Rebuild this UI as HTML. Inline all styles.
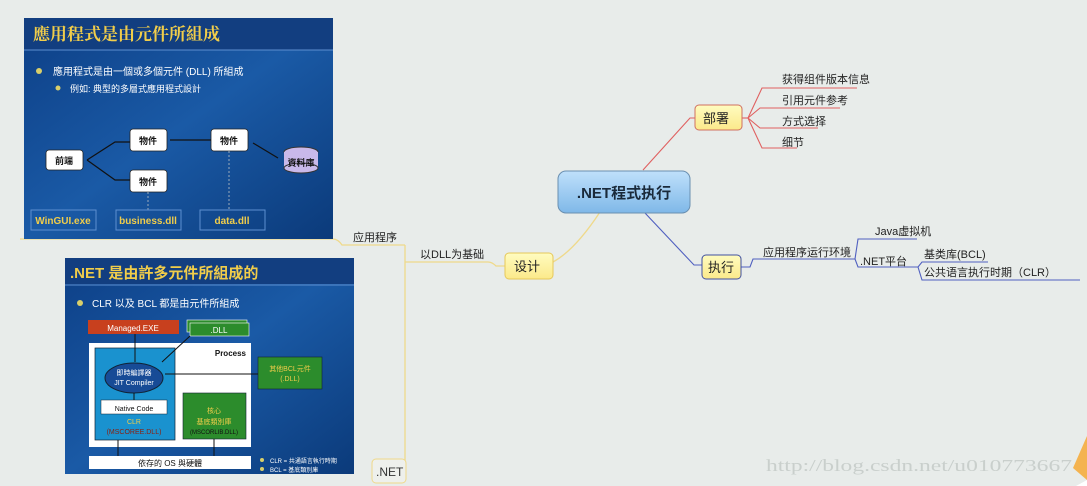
<!DOCTYPE html>
<html><head><meta charset="utf-8"><style>
body{margin:0;width:1087px;height:486px;overflow:hidden;background:#e8ecea;font-family:"Liberation Sans","Noto Sans CJK SC",sans-serif;}
svg{position:absolute;left:0;top:0}
</style></head><body>
<svg width="1087" height="486" viewBox="0 0 1087 486" xmlns="http://www.w3.org/2000/svg" font-family="Liberation Sans, Noto Sans CJK SC, sans-serif">
<defs>
<linearGradient id="sl" x1="0" y1="0" x2="1" y2="1">
<stop offset="0" stop-color="#0d3f86"/><stop offset="0.5" stop-color="#1a5aa6"/><stop offset="1" stop-color="#0b3a7a"/></linearGradient>
<linearGradient id="cn" x1="0" y1="0" x2="0" y2="1"><stop offset="0" stop-color="#bfe0fb"/><stop offset="1" stop-color="#7fb8e8"/></linearGradient>
<linearGradient id="yl" x1="0" y1="0" x2="0" y2="1"><stop offset="0" stop-color="#fffcc0"/><stop offset="1" stop-color="#fbe98a"/></linearGradient>
</defs>
<g fill="none" stroke="#efd98a" stroke-width="1.3">
<path d="M20 239 H333 Q338 239 342 245 H405"/>
<path d="M405 245 V472 Q405 480 400 480"/>
<path d="M405 262 H488 Q492 262 496 266 H505"/>
<path d="M553 262 Q575 250 600 212"/>
</g>
<rect x="372" y="459" width="34" height="24" rx="4" fill="#eef0ec" stroke="#efd98a"/>
<text x="376" y="476" font-size="12" fill="#333">.NET</text>
<text x="353" y="241" font-size="11" fill="#222">应用程序</text>
<text x="420" y="258" font-size="11" fill="#222">以DLL为基础</text>
<rect x="505" y="253" width="48" height="26" rx="4" fill="url(#yl)" stroke="#e6c85a"/>
<text x="514" y="271" font-size="13" fill="#222">设计</text>
<g fill="none" stroke="#e06060" stroke-width="1.1">
<path d="M643 170 L690 118 H695"/>
<path d="M742 118 H748"/>
<path d="M748 118 L762 88 H857"/>
<path d="M748 118 L760 108 H840"/>
<path d="M748 118 L760 128 H818"/>
<path d="M748 118 L762 148 H797"/>
</g>
<rect x="695" y="105" width="47" height="25" rx="4" fill="url(#yl)" stroke="#d07060"/>
<text x="703" y="123" font-size="13" fill="#222">部署</text>
<g font-size="11" fill="#222">
<text x="782" y="83">获得组件版本信息</text>
<text x="782" y="104">引用元件参考</text>
<text x="782" y="125">方式选择</text>
<text x="782" y="146">细节</text>
</g>
<g fill="none" stroke="#5060c0" stroke-width="1.1">
<path d="M645 213 L694 265 H702"/>
<path d="M741 267 H750 L753 259 H855"/>
<path d="M855 259 L858 239 H917"/>
<path d="M855 259 L858 267 H918"/>
<path d="M918 267 L922 262 H988"/>
<path d="M918 267 L922 280 H1080"/>
</g>
<rect x="702" y="255" width="39" height="24" rx="4" fill="url(#yl)" stroke="#4050a0"/>
<text x="708" y="272" font-size="13" fill="#222">执行</text>
<g font-size="11" fill="#222">
<text x="763" y="256">应用程序运行环境</text>
<text x="875" y="235">Java虚拟机</text>
<text x="860" y="265">.NET平台</text>
<text x="924" y="258">基类库(BCL)</text>
<text x="924" y="276">公共语言执行时期（CLR）</text>
</g>
<rect x="558" y="171" width="132" height="42" rx="8" fill="url(#cn)" stroke="#6a8fb0"/>
<text x="624" y="198" font-size="15" font-weight="bold" fill="#1a2a3a" text-anchor="middle">.NET程式执行</text>
<!-- slide 1 -->
<rect x="24" y="18" width="309" height="221" fill="url(#sl)"/>
<rect x="24" y="18" width="309" height="32" fill="#123e80"/>
<line x1="24" y1="50" x2="333" y2="50" stroke="#5d8fd0"/>
<text x="33" y="40" font-size="17" font-weight="bold" fill="#f1cd4a" font-family="Noto Serif CJK SC, serif">應用程式是由元件所組成</text>
<circle cx="39" cy="71" r="3" fill="#d9cf6a"/><circle cx="58" cy="88" r="2.5" fill="#d9cf6a"/>
<text x="53" y="75" font-size="10" fill="#fff">應用程式是由一個或多個元件 (DLL) 所組成</text>
<text x="70" y="92" font-size="9" fill="#fff">例如: 典型的多層式應用程式設計</text>
<g fill="#fff" stroke="#222" stroke-width="0.8">
<rect x="46" y="150" width="37" height="20" rx="3"/>
<rect x="130" y="129" width="37" height="22" rx="3"/>
<rect x="130" y="170" width="37" height="22" rx="3"/>
<rect x="211" y="129" width="37" height="22" rx="3"/>
</g>
<g stroke="#111" stroke-width="1.2" fill="none">
<path d="M87 160 L115 142 H130"/><path d="M87 160 L115 180 H130"/><path d="M170 140 H211"/><path d="M253 143 L278 158"/>
</g>
<g stroke="#9ab" stroke-dasharray="2 2"><line x1="148" y1="192" x2="148" y2="210"/><line x1="229" y1="151" x2="229" y2="210"/></g>
<ellipse cx="301" cy="152" rx="17" ry="5" fill="#c9b9ea" stroke="#333"/>
<rect x="284" y="152" width="34" height="16" fill="#c9b9ea"/>
<ellipse cx="301" cy="168" rx="17" ry="5" fill="#c9b9ea" stroke="#333"/>
<g font-size="9" font-weight="bold" fill="#111" text-anchor="middle">
<text x="64" y="164">前端</text><text x="148" y="144">物件</text><text x="148" y="185">物件</text><text x="229" y="144">物件</text><text x="301" y="166">資料庫</text>
</g>
<g fill="none" stroke="#5d8fd0"><rect x="31" y="210" width="65" height="20"/><rect x="116" y="210" width="65" height="20"/><rect x="200" y="210" width="65" height="20"/></g>
<g font-size="10" font-weight="bold" fill="#f1cd4a" text-anchor="middle"><text x="63" y="224">WinGUI.exe</text><text x="148" y="224">business.dll</text><text x="232" y="224">data.dll</text></g>
<!-- slide 2 -->
<rect x="65" y="258" width="289" height="216" fill="url(#sl)"/>
<rect x="65" y="258" width="289" height="26" fill="#123e80"/>
<line x1="65" y1="285" x2="354" y2="285" stroke="#5d8fd0"/>
<text x="70" y="278" font-size="15" font-weight="bold" fill="#f1cd4a">.NET 是由許多元件所組成的</text>
<circle cx="80" cy="303" r="3" fill="#d9cf6a"/>
<text x="92" y="307" font-size="10" fill="#fff">CLR 以及 BCL 都是由元件所組成</text>
<rect x="88" y="320" width="91" height="14" fill="#c8401e"/>
<text x="133" y="331" font-size="8" fill="#fff" text-anchor="middle">Managed.EXE</text>
<rect x="187" y="320" width="60" height="12" fill="#2c8c2c" stroke="#fff" stroke-width="0.6"/>
<rect x="190" y="323" width="59" height="13" fill="#2c8c2c" stroke="#fff" stroke-width="0.6"/>
<text x="219" y="333" font-size="8" fill="#fff" text-anchor="middle">.DLL</text>
<rect x="89" y="343" width="162" height="104" fill="#fff"/>
<rect x="95" y="348" width="80" height="92" fill="#1a92cf" stroke="#123" stroke-width="0.7"/>
<text x="246" y="356" font-size="8" font-weight="bold" fill="#111" text-anchor="end">Process</text>
<ellipse cx="134" cy="378" rx="29" ry="15" fill="#174b96" stroke="#123"/>
<text x="134" y="375" font-size="7" fill="#fff" text-anchor="middle">即時編譯器</text>
<text x="134" y="385" font-size="7" fill="#fff" text-anchor="middle">JIT Compiler</text>
<rect x="101" y="400" width="66" height="14" fill="#fff" stroke="#123" stroke-width="0.5"/>
<text x="134" y="411" font-size="7" fill="#111" text-anchor="middle">Native Code</text>
<text x="134" y="424" font-size="7" fill="#f1cd4a" text-anchor="middle">CLR</text>
<text x="134" y="434" font-size="7" fill="#8a2010" text-anchor="middle">(MSCOREE.DLL)</text>
<rect x="183" y="393" width="63" height="46" fill="#2c8c2c" stroke="#123" stroke-width="0.6"/>
<text x="214" y="413" font-size="7" fill="#f1cd4a" text-anchor="middle">核心</text>
<text x="214" y="424" font-size="7" fill="#f1cd4a" text-anchor="middle">基底類別庫</text>
<text x="214" y="434" font-size="6" fill="#111" text-anchor="middle">(MSCORLIB.DLL)</text>
<rect x="258" y="357" width="64" height="32" fill="#2c8c2c" stroke="#123" stroke-width="0.6"/>
<text x="290" y="371" font-size="7" fill="#f1cd4a" text-anchor="middle">其他BCL元件</text>
<text x="290" y="381" font-size="7" fill="#f1cd4a" text-anchor="middle">(.DLL)</text>
<g stroke="#111" stroke-width="1" fill="none">
<line x1="135" y1="334" x2="135" y2="362"/><line x1="190" y1="336" x2="162" y2="362"/>
<line x1="258" y1="374" x2="165" y2="374"/><line x1="134" y1="393" x2="134" y2="400"/>
<line x1="118" y1="440" x2="118" y2="456"/><line x1="214" y1="439" x2="214" y2="456"/>
</g>
<rect x="89" y="456" width="162" height="13" fill="#fff"/>
<text x="170" y="466" font-size="8" fill="#111" text-anchor="middle">依存的 OS 與硬體</text>
<circle cx="262" cy="460" r="2" fill="#d9cf6a"/><circle cx="262" cy="469" r="2" fill="#d9cf6a"/>
<text x="270" y="463" font-size="6" fill="#fff">CLR = 共通語言執行時期</text>
<text x="270" y="472" font-size="6" fill="#fff">BCL = 基底類別庫</text>
<text x="766" y="471" font-size="17" fill="#c9cfcc" font-family="Liberation Serif, serif" textLength="306" lengthAdjust="spacingAndGlyphs">http://blog.csdn.net/u010773667</text>
<path d="M1087 436 L1073 468 L1087 480 Z" fill="#f4b350"/>
<path d="M1087 480 L1076 486 H1087 Z" fill="#fff"/>
</svg>
</body></html>
